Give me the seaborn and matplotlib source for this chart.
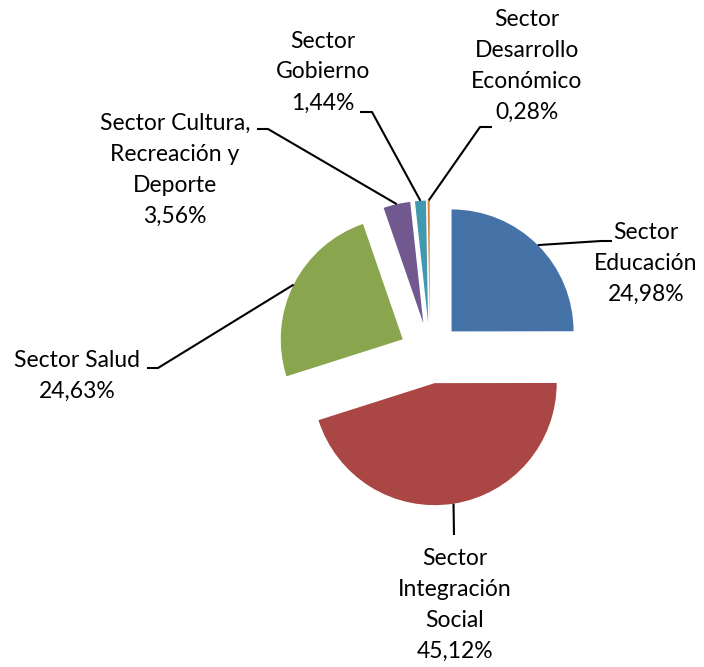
import numpy as np
import matplotlib
matplotlib.use('Agg')
import matplotlib.pyplot as plt
import seaborn as sns

sectores = ['Sector\nEducación', 'Sector\nIntegración\nSocial', 'Sector Salud',
            'Sector Cultura,\nRecreación y\nDeporte', 'Sector\nGobierno',
            'Sector\nDesarrollo\nEconómico']
porcentajes = [24.98, 45.12, 24.63, 3.56, 1.44, 0.28]
colores = ['#4572A7', '#AA4643', '#89A54E', '#71588F', '#4198AF', '#DB843D']

sns.set_theme(style='white')
plt.rcParams['font.family'] = ['Lato', 'DejaVu Sans']

W, H = 704, 667
fig = plt.figure(figsize=(W / 100, H / 100), dpi=100)
ax = fig.add_axes([0, 0, 1, 1])

radio = 122
centro = (430, H - 353)
sep = 0.25 * radio

wedges, _ = ax.pie(porcentajes, colors=colores, startangle=90, counterclock=False,
                   radius=radio, center=centro, explode=[sep] * len(porcentajes),
                   frame=False, wedgeprops=dict(linewidth=0))

# label layout: text centre, elbow, end of leader (pixel coords, y from top)
textos_pos = [(646, 263), (455, 605), (77, 376), (175, 170), (323, 72), (527, 66)]
codos = [(601, 241), (454, 535), (158, 368), (268, 129), (372, 112), (480, 127)]
finales = [(612, 241), (454, 535), (147, 368), (257, 129), (360, 112), (492, 127)]

for w, nombre, pct, tp, cp, fp in zip(wedges, sectores, porcentajes, textos_pos, codos, finales):
    ang = np.deg2rad((w.theta1 + w.theta2) / 2)
    x0 = w.center[0] + w.r * np.cos(ang)
    y0 = w.center[1] + w.r * np.sin(ang)
    ax.plot([x0, cp[0], fp[0]], [y0, H - cp[1], H - fp[1]], color='black', lw=1.5,
            solid_capstyle='butt')
    etiqueta = nombre + '\n' + f'{pct:.2f}'.replace('.', ',') + '%'
    ax.text(tp[0], H - tp[1], etiqueta, ha='center', va='center', multialignment='center',
            fontsize=16.5, color='black', linespacing=1.58)

ax.set_xlim(0, W)
ax.set_ylim(0, H)
ax.set_aspect('equal')
ax.axis('off')

fig.savefig('out.png', dpi=100, facecolor='white')
